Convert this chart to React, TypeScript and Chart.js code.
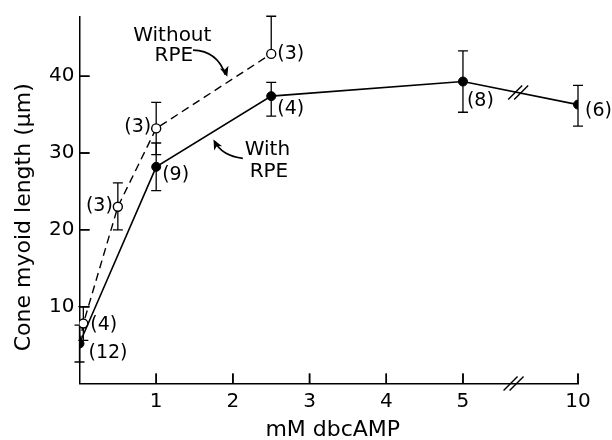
import React, { useEffect, useRef } from "react";
import { Chart, registerables } from "chart.js";

Chart.register(...registerables);

// ---- Data ----
const withX = [0, 1, 2.5, 5, 10];
const withY = [5.2, 28.2, 37.4, 39.3, 36.3];
const withErrUp = [2.4, 3.1, 1.8, 4.0, 2.5];
const withErrDown = [2.4, 3.1, 2.6, 4.0, 2.8];
const withN = [12, 9, 4, 8, 6];

const withoutX = [0.05, 0.5, 1, 2.5];
const withoutY = [7.8, 23.0, 33.2, 42.9];
const withoutErrUp = [2.2, 3.1, 3.4, 4.9];
const withoutErrDown = [2.2, 3.0, 3.4, 0];
const withoutN = [4, 3, 3, 3];

const xTickValues = [1, 2, 3, 4, 5, 10];
const yTickValues = [10, 20, 30, 40];

const xTitle = "mM dbcAMP";
const yTitle = "Cone myoid length (\u03bcm)";

// ---- Broken x axis: 5..10 is compressed ----
const BREAK_AT = 5;
const TAIL_SPAN = 1.5;
const TAIL_RANGE = 5;
const pos = (v: number) => (v <= BREAK_AT ? v : BREAK_AT + ((v - BREAK_AT) * TAIL_SPAN) / TAIL_RANGE);
const X_MAX = pos(10);
const Y_MAX = 47.7;

// label placement (pixel offsets, style only)
const withLabelOffsets = [
  [9, 10, "left"],
  [6, 8, "left"],
  [6, 13, "left"],
  [4, 20, "left"],
  [7, 6, "left"],
];
const withoutLabelOffsets = [
  [7, 1, "left"],
  [-5, -1, "right"],
  [-5, -1, "right"],
  [6, 0, "left"],
];

const FONT = "DejaVu Sans";

function drawArrowHead(ctx: CanvasRenderingContext2D, x: number, y: number, ang: number, size: number) {
  ctx.save();
  ctx.translate(x, y);
  ctx.rotate(ang);
  ctx.beginPath();
  ctx.moveTo(0, 0);
  ctx.lineTo(-size, -size * 0.45);
  ctx.lineTo(-size * 0.75, 0);
  ctx.lineTo(-size, size * 0.45);
  ctx.closePath();
  ctx.fillStyle = "#000";
  ctx.fill();
  ctx.restore();
}

function drawTickMarks(chart: any) {
  const ctx: CanvasRenderingContext2D = chart.ctx;
  const xs = chart.scales.x;
  const ys = chart.scales.y;
  const left = xs.left;
  const bottom = ys.bottom;
  ctx.save();
  ctx.strokeStyle = "#000";
  ctx.lineWidth = 1.5;
  ctx.setLineDash([]);
  ctx.beginPath();
  for (const v of xTickValues) {
    const px = xs.getPixelForValue(pos(v));
    ctx.moveTo(px, bottom);
    ctx.lineTo(px, bottom - 10);
  }
  for (const v of yTickValues) {
    const py = ys.getPixelForValue(v);
    ctx.moveTo(left, py);
    ctx.lineTo(left + 10, py);
  }
  ctx.stroke();
  ctx.restore();
}

const overlay = {
  id: "overlay",
  beforeDatasetsDraw(chart: any) {
    const ctx: CanvasRenderingContext2D = chart.ctx;
    const xs = chart.scales.x;
    const ys = chart.scales.y;
    drawTickMarks(chart);
    ctx.save();
    ctx.strokeStyle = "#000";
    ctx.lineWidth = 1.3;
    ctx.setLineDash([]);
    const bars = (X: number[], Y: number[], up: number[], dn: number[]) => {
      X.forEach((xv, i) => {
        const px = xs.getPixelForValue(pos(xv));
        const top = ys.getPixelForValue(Y[i] + up[i]);
        const bot = ys.getPixelForValue(Y[i] - dn[i]);
        ctx.beginPath();
        ctx.moveTo(px, top);
        ctx.lineTo(px, bot);
        if (up[i] > 0) {
          ctx.moveTo(px - 5, top);
          ctx.lineTo(px + 5, top);
        }
        if (dn[i] > 0) {
          ctx.moveTo(px - 5, bot);
          ctx.lineTo(px + 5, bot);
        }
        ctx.stroke();
      });
    };
    bars(withX, withY, withErrUp, withErrDown);
    bars(withoutX, withoutY, withoutErrUp, withoutErrDown);
    ctx.restore();
  },
  afterDraw(chart: any) {
    const ctx: CanvasRenderingContext2D = chart.ctx;
    const xs = chart.scales.x;
    const ys = chart.scales.y;
    const area = chart.chartArea;
    drawTickMarks(chart);
    ctx.save();
    ctx.setLineDash([]);
    ctx.strokeStyle = "#000";
    ctx.fillStyle = "#000";

    // break marks
    const slash = (cx: number, cy: number) => {
      ctx.beginPath();
      ctx.moveTo(cx - 7, cy + 7);
      ctx.lineTo(cx + 7, cy - 7);
      ctx.stroke();
    };
    const bx = xs.getPixelForValue(5.66);
    ctx.lineWidth = 1.4;
    slash(bx - 3, area.bottom);
    slash(bx + 3, area.bottom);

    const lp = 5.72;
    const x0 = pos(withX[3]);
    const x1 = pos(withX[4]);
    const t = (lp - x0) / (x1 - x0);
    const ly = ys.getPixelForValue(withY[3] + t * (withY[4] - withY[3]));
    const lx = xs.getPixelForValue(lp);
    slash(lx - 3, ly);
    slash(lx + 3, ly);

    // point labels (n)
    ctx.font = `19px "${FONT}"`;
    ctx.textBaseline = "middle";
    const labels = (X: number[], Y: number[], N: number[], offs: any[]) => {
      X.forEach((xv, i) => {
        const px = xs.getPixelForValue(pos(xv));
        const py = ys.getPixelForValue(Y[i]);
        const [dx, dy, al] = offs[i];
        ctx.textAlign = al;
        ctx.fillText(`(${N[i]})`, px + dx, py + dy);
      });
    };
    labels(withX, withY, withN, withLabelOffsets);
    labels(withoutX, withoutY, withoutN, withoutLabelOffsets);

    // annotations
    const P = (x: number, y: number) => [xs.getPixelForValue(x), ys.getPixelForValue(y)];
    ctx.font = `20px "${FONT}"`;
    ctx.textAlign = "center";
    let [tx, ty] = P(1.21, 45.2);
    ctx.fillText("Without", tx, ty);
    [tx, ty] = P(1.23, 42.6);
    ctx.fillText("RPE", tx, ty);
    [tx, ty] = P(2.45, 30.4);
    ctx.fillText("With", tx, ty);
    [tx, ty] = P(2.47, 27.6);
    ctx.fillText("RPE", tx, ty);

    ctx.lineWidth = 1.7;
    let [sx, sy] = P(1.48, 43.4);
    let [cx, cy] = P(1.80, 43.3);
    let [ex, ey] = P(1.90, 40.2);
    ctx.beginPath();
    ctx.moveTo(sx, sy);
    ctx.quadraticCurveTo(cx, cy, ex, ey);
    ctx.stroke();
    drawArrowHead(ctx, ex + 2, ey + 2, Math.atan2(ey - cy, ex - cx), 10);

    [sx, sy] = P(2.13, 29.3);
    [cx, cy] = P(1.86, 29.6);
    [ex, ey] = P(1.76, 31.5);
    ctx.beginPath();
    ctx.moveTo(sx, sy);
    ctx.quadraticCurveTo(cx, cy, ex, ey);
    ctx.stroke();
    drawArrowHead(ctx, ex - 1, ey - 2, Math.atan2(ey - cy, ex - cx), 10);

    // axis titles
    ctx.font = `22px "${FONT}"`;
    ctx.textAlign = "center";
    ctx.textBaseline = "middle";
    ctx.save();
    ctx.translate(24, (area.top + area.bottom) / 2 + 17);
    ctx.rotate(-Math.PI / 2);
    ctx.fillText(yTitle, 0, 0);
    ctx.restore();
    ctx.font = `22px "${FONT}"`;
    ctx.fillText(xTitle, (area.left + area.right) / 2 + 4, 430);
    ctx.restore();
  },
};

export default function App() {
  const ref = useRef<HTMLCanvasElement | null>(null);
  useEffect(() => {
    if (!ref.current) return;
    const withData = withX.map((x, i) => ({ x: pos(x), y: withY[i] }));
    const withoutData = [{ x: pos(withX[0]), y: withY[0] }].concat(
      withoutX.map((x, i) => ({ x: pos(x), y: withoutY[i] }))
    );
    const chart = new Chart(ref.current, {
      type: "line",
      data: {
        datasets: [
          {
            label: "With RPE",
            data: withData,
            borderColor: "#000",
            borderWidth: 1.6,
            pointRadius: 4.5,
            pointBackgroundColor: "#000",
            pointBorderColor: "#000",
            pointBorderWidth: 1,
            tension: 0,
          },
          {
            label: "Without RPE",
            data: withoutData,
            borderColor: "#000",
            borderWidth: 1.4,
            borderDash: [8, 5],
            pointRadius: withoutData.map((_, i) => (i === 0 ? 0 : 4.5)),
            pointBackgroundColor: "#fff",
            pointBorderColor: "#000",
            pointBorderWidth: 1.4,
            tension: 0,
          },
        ],
      },
      options: {
        responsive: false,
        animation: false,
        events: [],
        layout: { padding: { top: 14, right: 34, left: 0, bottom: 0 } },
        plugins: { legend: { display: false }, tooltip: { enabled: false }, title: { display: false } },
        scales: {
          x: {
            type: "linear",
            min: 0,
            max: X_MAX,
            grid: { display: false, drawTicks: false },
            border: { display: true, color: "#000", width: 1.5 },
            afterFit: (s: any) => {
              s.height = 56.5;
            },
            afterBuildTicks: (s: any) => {
              s.ticks = xTickValues.map((v) => ({ value: pos(v), label: String(v) }));
            },
            ticks: {
              autoSkip: false,
              maxRotation: 0,
              padding: 6,
              color: "#000",
              font: { family: FONT, size: 20 },
              callback: (val: any) => {
                const i = xTickValues.findIndex((v) => Math.abs(pos(v) - val) < 1e-6);
                return i >= 0 ? String(xTickValues[i]) : "";
              },
            },
          },
          y: {
            type: "linear",
            min: 0,
            max: Y_MAX,
            grid: { display: false, drawTicks: false },
            border: { display: true, color: "#000", width: 1.5 },
            afterFit: (s: any) => {
              s.width = 79.5;
            },
            afterBuildTicks: (s: any) => {
              s.ticks = yTickValues.map((v) => ({ value: v }));
            },
            ticks: {
              autoSkip: false,
              padding: 5,
              color: "#000",
              font: { family: FONT, size: 20 },
              callback: (val: any) => String(val),
            },
          },
        },
      },
      plugins: [overlay],
    } as any);
    return () => chart.destroy();
  }, []);
  return (
    <div style={{ position: "absolute", left: 0, top: 0, width: 612, height: 440, background: "#fff" }}>
      <canvas ref={ref} width={612} height={440} />
    </div>
  );
}
